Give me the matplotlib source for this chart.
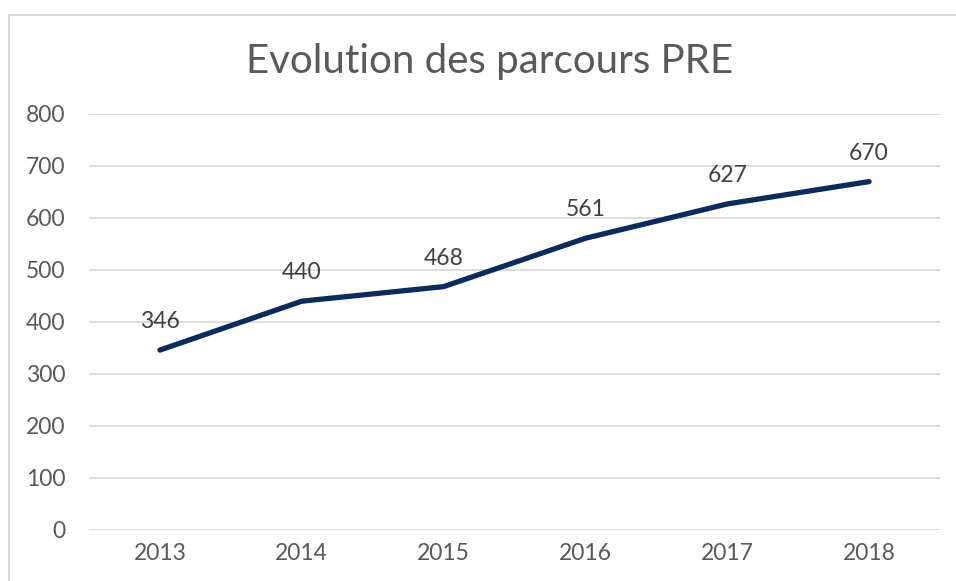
import matplotlib.pyplot as plt
from matplotlib.patches import Rectangle

plt.rcParams["font.family"] = ["Lato", "DejaVu Sans"]

annees = ["2013", "2014", "2015", "2016", "2017", "2018"]
parcours = [346, 440, 468, 561, 627, 670]

fig = plt.figure(figsize=(9.56, 5.81), dpi=100)
ax = fig.add_axes([89 / 956, 1 - 530 / 581, 851 / 956, 416 / 581])

# cadre du graphique
fig.patches.append(Rectangle((9 / 956, -0.05), 1.1, 1 - 15 / 581 + 0.05,
                             transform=fig.transFigure, fill=False,
                             edgecolor="#d9d9d9", linewidth=1.5))

x = range(len(annees))
ax.plot(x, parcours, color="#0c2b5c", linewidth=3.8, solid_capstyle="round")
for xi, v in zip(x, parcours):
    ax.annotate(str(v), (xi, v), xytext=(0, 13), textcoords="offset points",
                ha="center", va="bottom", fontsize=16.5, color="#404040")

ax.set_xlim(-0.5, len(annees) - 0.5)
ax.set_ylim(0, 800)
ax.set_yticks(range(0, 801, 100))
ax.set_xticks(list(x))
ax.set_xticklabels(annees)
ax.grid(axis="y", color="#d9d9d9", linewidth=1.3)
ax.set_axisbelow(True)
for s in ax.spines.values():
    s.set_visible(False)
ax.tick_params(length=0, labelsize=16.5, labelcolor="#595959")
ax.tick_params(axis="y", pad=17)
ax.tick_params(axis="x", pad=9)

fig.text(490 / 956, 1 - 62 / 581, "Evolution des parcours PRE", ha="center",
         va="center", fontsize=29, color="#595959")

fig.savefig("out.png", dpi=100)
